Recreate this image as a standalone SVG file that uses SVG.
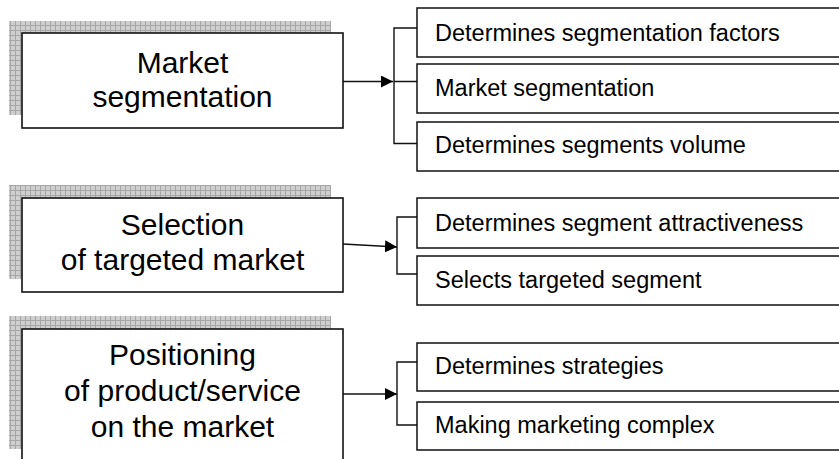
<svg xmlns="http://www.w3.org/2000/svg" width="839" height="459" viewBox="0 0 839 459">
<defs>
<pattern id="grid" width="5" height="5" patternUnits="userSpaceOnUse">
<rect width="5" height="5" fill="#cfcfcf"/>
<path d="M0,0.5 H5 M0.5,0 V5" stroke="#a6a6a6" stroke-width="1" fill="none"/>
</pattern>
<marker id="arr" markerUnits="userSpaceOnUse" markerWidth="13" markerHeight="13" refX="12" refY="6" orient="auto">
<path d="M0,0 L12,6 L0,12 z" fill="#000"/>
</marker>
<style>
.shadow{fill:url(#grid);stroke:none}
.main{fill:#fff;stroke:#111;stroke-width:1.6}
.sub{fill:#fff;stroke:#111;stroke-width:1.5}
.big{font-family:"Liberation Sans",Arial,sans-serif;font-size:30px;fill:#000;text-anchor:middle}
.small{font-family:"Liberation Sans",Arial,sans-serif;font-size:23.5px;fill:#000}
.conn{fill:none;stroke:#111;stroke-width:1.4}
</style>
</defs>
<rect width="839" height="459" fill="#fff"/>

<g id="node-market-segmentation">
<rect class="shadow" x="9" y="21" width="322" height="94"/>
<rect class="main" x="22" y="33" width="321" height="95"/>
<text class="big" x="182.5" y="73">Market</text>
<text class="big" x="182.5" y="107">segmentation</text>
</g>
<g id="node-seg-factors">
<rect class="sub" x="417" y="8" width="440" height="49"/>
<text class="small" x="435" y="41">Determines segmentation factors</text>
</g>
<g id="node-market-seg">
<rect class="sub" x="417" y="64" width="440" height="49"/>
<text class="small" x="435" y="96">Market segmentation</text>
</g>
<g id="node-seg-volume">
<rect class="sub" x="417" y="122" width="440" height="49"/>
<text class="small" x="435" y="153">Determines segments volume</text>
</g>

<g id="node-selection">
<rect class="shadow" x="9" y="185" width="322" height="94"/>
<rect class="main" x="22" y="198" width="321" height="94"/>
<text class="big" x="182.5" y="235">Selection</text>
<text class="big" x="182.5" y="270">of targeted market</text>
</g>
<g id="node-attractiveness">
<rect class="sub" x="417" y="198" width="440" height="50"/>
<text class="small" x="435" y="231">Determines segment attractiveness</text>
</g>
<g id="node-selects-segment">
<rect class="sub" x="417" y="256" width="440" height="49"/>
<text class="small" x="435" y="288">Selects targeted segment</text>
</g>

<g id="node-positioning">
<rect class="shadow" x="9" y="316" width="322" height="133"/>
<rect class="main" x="22" y="329" width="321" height="150"/>
<text class="big" x="182.5" y="365">Positioning</text>
<text class="big" x="182.5" y="401">of product/service</text>
<text class="big" x="182.5" y="437">on the market</text>
</g>
<g id="node-strategies">
<rect class="sub" x="417" y="343" width="440" height="48"/>
<text class="small" x="435" y="374">Determines strategies</text>
</g>
<g id="node-marketing-complex">
<rect class="sub" x="417" y="402" width="440" height="48"/>
<text class="small" x="435" y="433">Making marketing complex</text>
</g>

<g id="connectors">
<line class="conn" x1="343" y1="81.5" x2="393" y2="81.5" marker-end="url(#arr)"/>
<path class="conn" d="M417,28 H394 V143.5 H417 M394,81.5 H417"/>
<line class="conn" x1="343" y1="244" x2="397" y2="247" marker-end="url(#arr)"/>
<path class="conn" d="M417,217 H397 V274 H417"/>
<line class="conn" x1="343" y1="394" x2="397" y2="394" marker-end="url(#arr)"/>
<path class="conn" d="M417,362 H397 V425 H417"/>
</g>
</svg>
